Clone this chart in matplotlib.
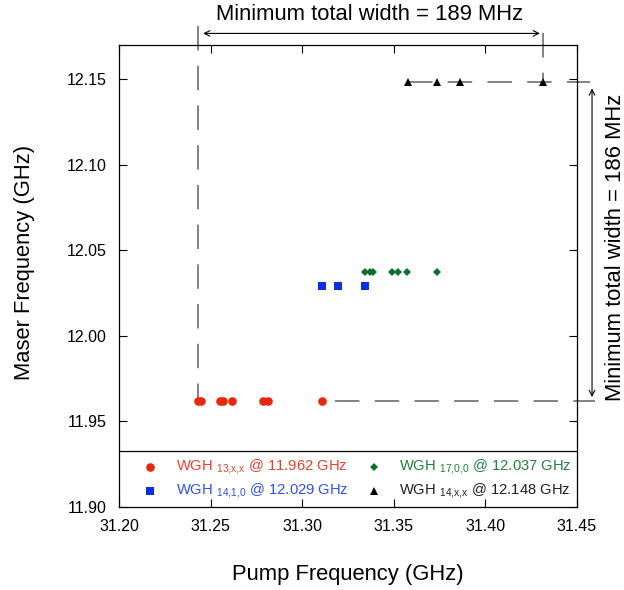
import matplotlib
matplotlib.use('Agg')
from matplotlib import pyplot as plt

plt.rcParams['font.family'] = ['Liberation Sans', 'DejaVu Sans']
plt.rcParams['mathtext.fontset'] = 'custom'
plt.rcParams['mathtext.rm'] = 'Liberation Sans'
plt.rcParams['mathtext.it'] = 'Liberation Sans:italic'

# dane
pump_13 = [31.2430, 31.2445, 31.2554, 31.2568, 31.2615, 31.2788, 31.2815, 31.3110]
maser_13 = 11.962
pump_14_1 = [31.3107, 31.3196, 31.3343]
maser_14_1 = 12.029
pump_17 = [31.3343, 31.3370, 31.3385, 31.3492, 31.3521, 31.3572, 31.3738]
maser_17 = 12.037
pump_14 = [31.3576, 31.3738, 31.3862, 31.4316]
maser_14 = 12.148

x_ticks = [31.20, 31.25, 31.30, 31.35, 31.40, 31.45]
y_ticks = [11.90, 11.95, 12.00, 12.05, 12.10, 12.15]

# (x, y, marker, rozmiar, kolor, kolor tekstu, indeks, wartosc, kolumna, wiersz)
serie = [
    (pump_13, maser_13, 'o', 6.2, '#e8280c', '#e8402a', '13{,}x{,}x', '11.962', 0, 0),
    (pump_14_1, maser_14_1, 's', 5.8, '#0c2ee0', '#3050e8', '14{,}1{,}0', '12.029', 0, 1),
    (pump_17, maser_17, 'D', 4.2, '#0e6e2c', '#208040', '17{,}0{,}0', '12.037', 1, 0),
    (pump_14, maser_14, '^', 6.0, 'black', '#202020', '14{,}x{,}x', '12.148', 1, 1),
]

fig = plt.figure(figsize=(6.24, 5.90), dpi=100)
ax = fig.add_axes([0.1907, 0.1407, 0.734, 0.7835])

szary = '#606060'
kreski = (0, (16, 10))

# linie pomocnicze
ax.plot([pump_13[0], pump_13[0]], [12.1812, maser_13], color=szary, lw=1.1,
        linestyle=kreski, clip_on=False, zorder=1)
ax.plot([pump_14[-1], pump_14[-1]], [12.1766, maser_14], color=szary, lw=1.1,
        linestyle=kreski, clip_on=False, zorder=1)
ax.plot([pump_14[0], 31.4571], [maser_14, maser_14], color=szary, lw=1.1,
        linestyle=kreski, clip_on=False, zorder=1)
ax.plot([31.3179, 31.4598], [maser_13, maser_13], color=szary, lw=1.1,
        linestyle=kreski, clip_on=False, zorder=1)

for px, py, m, ms, c, tc, sub, val, kol, wiersz in serie:
    ax.plot(px, [py] * len(px), linestyle='none', marker=m, markersize=ms,
            color=c, markeredgewidth=0, zorder=3)

# strzalki
ax.annotate('', xy=(31.2459, 12.1766), xytext=(31.4298, 12.1766),
            arrowprops=dict(arrowstyle='<->', color='black', lw=0.8,
                            shrinkA=0, shrinkB=0), annotation_clip=False)
ax.annotate('', xy=(31.4582, 12.1445), xytext=(31.4582, 11.9642),
            arrowprops=dict(arrowstyle='<->', color='black', lw=0.8,
                            shrinkA=0, shrinkB=0), annotation_clip=False)
fig.text(0.593, 0.976, 'Minimum total width = 189 MHz', fontsize=15.8,
         ha='center', va='center')
fig.text(0.9856, 0.581, 'Minimum total width = 186 MHz', fontsize=15.8,
         ha='center', va='center', rotation=90)

# legenda
ax.axhline(11.9328, color='black', lw=0.9, zorder=2)
poz_x = [(0.0677, 0.1238), (0.5568, 0.611)]
poz_y = [0.0872, 0.0353]
for px, py, m, ms, c, tc, sub, val, kol, wiersz in serie:
    ax.plot([poz_x[kol][0]], [poz_y[wiersz]], transform=ax.transAxes,
            marker=m, markersize=ms, color=c, markeredgewidth=0,
            linestyle='none')
    ax.text(poz_x[kol][1], poz_y[wiersz],
            'WGH $_{\\mathrm{' + sub + '}}$ @ ' + val + ' GHz',
            transform=ax.transAxes, color=tc, fontsize=10.6, va='center')

ax.set_xlim(31.20, 31.45)
ax.set_ylim(11.90, 12.17)
ax.set_xticks(x_ticks)
ax.set_yticks(y_ticks)
ax.set_xticklabels(['%.2f' % t for t in x_ticks])
ax.set_yticklabels(['%.2f' % t for t in y_ticks])
ax.tick_params(direction='in', length=6, width=0.8, top=True, right=True,
               labelsize=11.5, pad=9)
for s in ax.spines.values():
    s.set_linewidth(0.9)

fig.text(0.040, 0.556, 'Maser Frequency (GHz)', fontsize=15.8, rotation=90,
         ha='center', va='center')
fig.text(0.558, 0.026, 'Pump Frequency (GHz)', fontsize=15.8,
         ha='center', va='center')

plt.savefig('out.png', dpi=100)
